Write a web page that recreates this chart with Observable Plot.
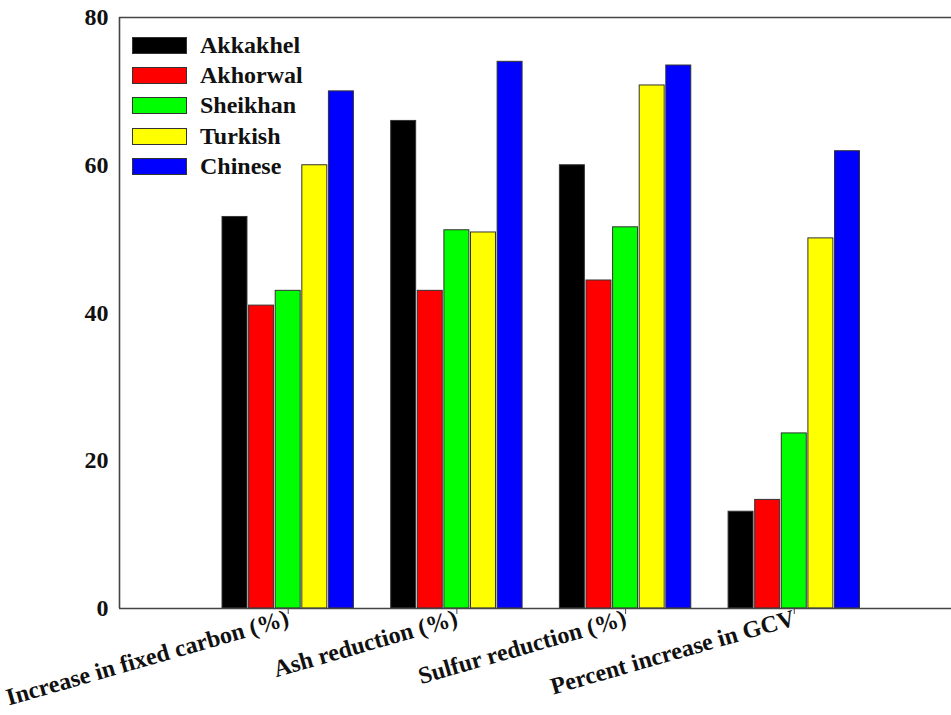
<!DOCTYPE html>
<html>
<head>
<meta charset="utf-8">
<script src="https://cdn.jsdelivr.net/npm/d3@7"></script>
<script src="https://cdn.jsdelivr.net/npm/@observablehq/plot@0.6"></script>
<style>
  html, body { margin: 0; padding: 0; background: #fff; overflow: hidden; }
  #wrap { position: relative; width: 951px; height: 715px; }
  #wrap svg { display: block; }
  #legend { position: absolute; left: 132px; top: 30px; font-family: "Liberation Serif", "Times New Roman", serif; font-weight: bold; font-size: 24px; color: #111; }
  .row { display: flex; align-items: center; height: 30.3px; }
  .sw { width: 53px; height: 15px; border: 1.5px solid #333; margin-right: 13px; }
</style>
</head>
<body>
<div id="wrap"><div id="legend"></div></div>
<script>
const categories = ["Increase in fixed carbon (%)", "Ash reduction (%)", "Sulfur reduction (%)", "Percent increase in GCV"];
const seriesNames = ["Akkakhel", "Akhorwal", "Sheikhan", "Turkish", "Chinese"];
const seriesColors = ["#000000", "#ff0000", "#00ff00", "#ffff00", "#0000ff"];
const Akkakhel = [53.0, 66.0, 60.0, 13.1];
const Akhorwal = [41.0, 43.0, 44.4, 14.7];
const Sheikhan = [43.0, 51.2, 51.6, 23.7];
const Turkish  = [60.0, 50.9, 70.8, 50.1];
const Chinese  = [70.0, 74.0, 73.5, 61.9];
const yTicks = [0, 20, 40, 60, 80];

const seriesValues = [Akkakhel, Akhorwal, Sheikhan, Turkish, Chinese];
const data = [];
seriesValues.forEach((vals, si) => vals.forEach((v, gi) => data.push({group: gi + 1, si, series: seriesNames[si], value: v})));

const pitch = 0.1577, barW = 0.148;
const font = '"Liberation Serif", "Times New Roman", serif';

const chart = Plot.plot({
  width: 951,
  height: 715,
  marginLeft: 119,
  marginRight: 0,
  marginTop: 17,
  marginBottom: 107,
  style: {fontFamily: font, fontWeight: "bold", fontSize: "24px", color: "#111", background: "#fff"},
  x: {type: "linear", domain: [0, 4.932], axis: null, label: null},
  y: {domain: [0, 80], axis: null, label: null},
  color: {domain: seriesNames, range: seriesColors},
  marks: [
    Plot.rectY(data, {
      x1: d => d.group + (d.si - 2) * pitch - barW / 2,
      x2: d => d.group + (d.si - 2) * pitch + barW / 2,
      y1: 0,
      y2: "value",
      fill: "series",
      stroke: "#333",
      strokeWidth: 1
    }),
    Plot.ruleY([0, 80], {stroke: "#444", strokeWidth: 1.6}),
    Plot.ruleX([0], {stroke: "#444", strokeWidth: 1.6}),
    Plot.axisY({ticks: yTicks, tickSize: 0, tickPadding: 11, fontSize: 24, label: null}),
    Plot.axisX({ticks: [1, 2, 3, 4], tickFormat: i => categories[i - 1], tickRotate: -16, tickSize: 6, tickPadding: 3, fontSize: 24, stroke: "#444", label: null})
  ]
});
const wrap = document.getElementById("wrap");
wrap.insertBefore(chart, wrap.firstChild);

const legend = document.getElementById("legend");
seriesNames.forEach((n, i) => {
  const row = document.createElement("div");
  row.className = "row";
  const sw = document.createElement("div");
  sw.className = "sw";
  sw.style.background = seriesColors[i];
  const t = document.createElement("span");
  t.textContent = n;
  row.appendChild(sw); row.appendChild(t);
  legend.appendChild(row);
});
</script>
</body>
</html>
